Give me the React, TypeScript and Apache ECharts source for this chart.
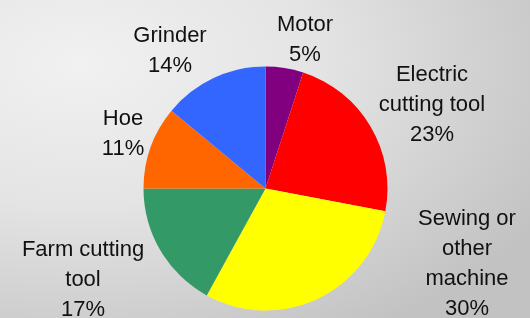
import React, { useEffect, useRef } from "react";
import * as echarts from "echarts";

const categories = [
  "Motor",
  "Electric\ncutting tool",
  "Sewing or\nother\nmachine",
  "Farm cutting\ntool",
  "Hoe",
  "Grinder",
];
const values = [5, 23, 30, 17, 11, 14];
const colors = ["#800080", "#FF0000", "#FFFF00", "#339966", "#FF6600", "#3366FF"];
// label block centres (px)
const labelX = [305, 432, 467, 83, 123, 170];
const labelY = [38, 103, 262, 278, 132, 49];

export default function App() {
  const ref = useRef<HTMLDivElement>(null);
  useEffect(() => {
    if (!ref.current) return;
    const chart = echarts.init(ref.current, null, { renderer: "svg" });
    chart.setOption({
      animation: false,
      backgroundColor: {
        type: "radial",
        x: 0.15,
        y: 0.2,
        r: 1.0,
        colorStops: [
          { offset: 0, color: "#f1f1f1" },
          { offset: 0.45, color: "#e4e4e4" },
          { offset: 1, color: "#c2c2c2" },
        ],
      },
      series: [
        {
          type: "pie",
          center: [265.5, 188.5],
          radius: 122,
          startAngle: 90,
          clockwise: true,
          avoidLabelOverlap: false,
          data: categories.map((name, i) => ({
            name,
            value: values[i],
            itemStyle: { color: colors[i] },
          })),
          itemStyle: { borderWidth: 0 },
          label: {
            show: true,
            position: "outside",
            formatter: "{b}\n{c}%",
            fontFamily: "Liberation Sans, Arial, sans-serif",
            fontSize: 22,
            lineHeight: 30,
            color: "#111",
            align: "center",
          },
          labelLine: { show: false },
          labelLayout: (params: any) => ({
            x: labelX[params.dataIndex],
            y: labelY[params.dataIndex],
            align: "center",
            verticalAlign: "middle",
          }),
          emphasis: { disabled: true },
        },
      ],
    });
    return () => chart.dispose();
  }, []);
  return (
    <div
      ref={ref}
      style={{ position: "fixed", left: 0, top: 0, width: 530, height: 318 }}
    />
  );
}
